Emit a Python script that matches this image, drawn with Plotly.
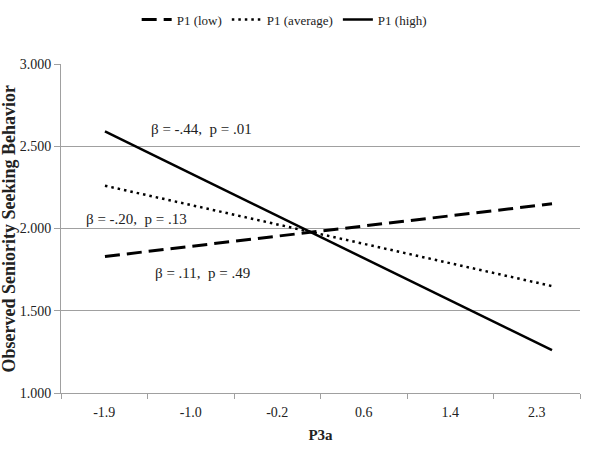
import plotly.graph_objects as go

# Data
categories = ["-1.9", "-1.0", "-0.2", "0.6", "1.4", "2.3"]
p3a_ends = [-1.9, 2.3]
p1_low = [1.83, 2.15]
p1_average = [2.26, 1.65]
p1_high = [2.59, 1.26]
series_names = ["P1 (low)", "P1 (average)", "P1 (high)"]
y_ticks = [1.0, 1.5, 2.0, 2.5, 3.0]
y_tick_labels = ["1.000", "1.500", "2.000", "2.500", "3.000"]
notes = ["β = -.44,  p = .01", "β = -.20,  p = .13", "β = .11,  p = .49"]
note_x = [-0.99, -1.60, -0.98]
note_y = [2.605, 2.058, 1.73]

FONT = "Liberation Serif, Times New Roman, serif"
GRID = "#a0a0a0"
TXT = "#222"

fig = go.Figure()

# invisible trace on the category axis so it is rendered
fig.add_trace(go.Scatter(x=categories, y=[None] * len(categories), xaxis="x", yaxis="y",
                         mode="lines", showlegend=False, hoverinfo="skip"))

styles = [
    dict(color="black", width=3, dash="15px,7px"),
    dict(color="black", width=2.5, dash="2.5px,4px"),
    dict(color="black", width=2.5, dash="solid"),
]
for name, vals, st in zip(series_names, [p1_low, p1_average, p1_high], styles):
    fig.add_trace(go.Scatter(x=p3a_ends, y=vals, name=name, mode="lines",
                             xaxis="x2", yaxis="y", line=st))

for t, xv, yv in zip(notes, note_x, note_y):
    fig.add_annotation(x=xv, y=yv, xref="x2", yref="y", text=t, showarrow=False,
                       font=dict(family=FONT, size=15, color=TXT))

fig.add_annotation(x=-0.102, y=0.5, xref="paper", yref="paper", xanchor="center", yanchor="middle",
                   text="<b>Observed Seniority Seeking Behavior</b>", textangle=-90,
                   showarrow=False, font=dict(family=FONT, size=18, color=TXT))

fig.update_layout(
    width=600, height=455,
    margin=dict(l=61, r=20, t=64, b=62),
    paper_bgcolor="white", plot_bgcolor="white",
    font=dict(family=FONT, size=13, color=TXT),
    legend=dict(orientation="h", x=0.43, xanchor="center", y=0.99, yref="container", yanchor="top",
                font=dict(family=FONT, size=13, color=TXT), itemwidth=30),
    xaxis=dict(type="category", categoryorder="array", categoryarray=categories,
               range=[-0.5, 5.5], showgrid=False, showline=True, linecolor=GRID, linewidth=1,
               ticks="outside", tickson="boundaries", ticklen=5, tickcolor=GRID,
               ticklabelstandoff=6,
               tickfont=dict(family=FONT, size=14, color=TXT),
               title=dict(text="<b>P3a</b>", font=dict(family=FONT, size=15, color=TXT), standoff=10),
               fixedrange=True),
    xaxis2=dict(overlaying="x", range=[-2.313, 2.563], visible=False),
    yaxis=dict(range=[1.0, 3.0], tickvals=y_ticks, ticktext=y_tick_labels,
               showgrid=True, gridcolor=GRID, gridwidth=1, showline=True, linecolor=GRID,
               ticks="outside", ticklen=6, tickcolor=GRID, zeroline=False,
               tickfont=dict(family=FONT, size=14, color=TXT)),
)

fig.write_html("out.html")
